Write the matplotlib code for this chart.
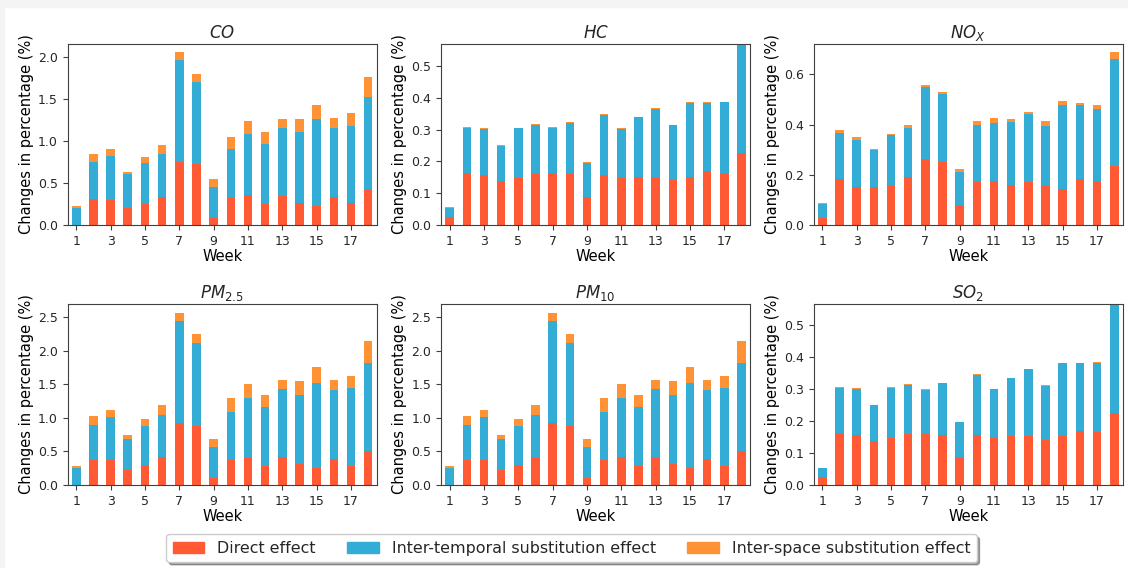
import matplotlib.pyplot as plt
from matplotlib.patches import Rectangle, Patch

# ================ Données ================

weeks = list(range(1, 19))

co_direct = [0.0, 0.31, 0.30, 0.20, 0.255, 0.34, 0.757, 0.725, 0.088, 0.32, 0.36, 0.255, 0.347, 0.263, 0.223, 0.335, 0.263, 0.434]
co_temporal = [0.207, 0.447, 0.525, 0.41, 0.49, 0.513, 1.207, 0.984, 0.366, 0.584, 0.728, 0.713, 0.812, 0.845, 1.044, 0.824, 0.92, 1.096]
co_space = [0.016, 0.092, 0.079, 0.027, 0.064, 0.103, 0.096, 0.096, 0.092, 0.152, 0.159, 0.14, 0.104, 0.163, 0.171, 0.12, 0.148, 0.239]

hc_direct = [0.024, 0.163, 0.157, 0.139, 0.147, 0.160, 0.162, 0.160, 0.089, 0.157, 0.149, 0.151, 0.151, 0.140, 0.151, 0.169, 0.164, 0.225]
hc_temporal = [0.031, 0.143, 0.146, 0.111, 0.158, 0.153, 0.142, 0.162, 0.107, 0.190, 0.154, 0.188, 0.214, 0.173, 0.234, 0.216, 0.222, 0.375]
hc_space = [0.001, 0.002, 0.001, 0.001, 0.001, 0.005, 0.003, 0.001, 0.001, 0.002, 0.001, 0.001, 0.002, 0.002, 0.001, 0.001, 0.002, 0.003]

nox_direct = [0.027, 0.184, 0.152, 0.150, 0.156, 0.192, 0.262, 0.253, 0.078, 0.170, 0.177, 0.160, 0.170, 0.156, 0.145, 0.185, 0.177, 0.237]
nox_temporal = [0.058, 0.184, 0.187, 0.149, 0.203, 0.196, 0.287, 0.271, 0.135, 0.229, 0.229, 0.251, 0.273, 0.240, 0.333, 0.293, 0.287, 0.424]
nox_space = [0.003, 0.010, 0.010, 0.003, 0.003, 0.012, 0.010, 0.007, 0.010, 0.017, 0.021, 0.013, 0.008, 0.020, 0.017, 0.009, 0.014, 0.027]

pm25_direct = [0.0, 0.369, 0.369, 0.219, 0.299, 0.418, 0.926, 0.876, 0.100, 0.378, 0.418, 0.289, 0.418, 0.309, 0.259, 0.388, 0.289, 0.508]
pm25_temporal = [0.259, 0.527, 0.642, 0.468, 0.587, 0.628, 1.524, 1.245, 0.468, 0.713, 0.882, 0.876, 1.011, 1.031, 1.265, 1.021, 1.150, 1.315]
pm25_space = [0.025, 0.135, 0.109, 0.060, 0.095, 0.149, 0.120, 0.130, 0.119, 0.209, 0.204, 0.180, 0.140, 0.214, 0.239, 0.160, 0.180, 0.318]

pm10_direct = [0.0, 0.369, 0.369, 0.219, 0.299, 0.418, 0.926, 0.876, 0.100, 0.378, 0.418, 0.289, 0.418, 0.309, 0.259, 0.388, 0.289, 0.508]
pm10_temporal = [0.259, 0.527, 0.642, 0.468, 0.587, 0.628, 1.524, 1.245, 0.468, 0.713, 0.882, 0.876, 1.011, 1.031, 1.265, 1.021, 1.150, 1.315]
pm10_space = [0.025, 0.135, 0.109, 0.060, 0.095, 0.149, 0.120, 0.130, 0.119, 0.209, 0.204, 0.180, 0.140, 0.214, 0.239, 0.160, 0.180, 0.318]

so2_direct = [0.026, 0.162, 0.157, 0.137, 0.148, 0.160, 0.160, 0.157, 0.087, 0.157, 0.148, 0.153, 0.153, 0.142, 0.153, 0.169, 0.164, 0.225]
so2_temporal = [0.027, 0.142, 0.144, 0.112, 0.156, 0.151, 0.138, 0.160, 0.109, 0.187, 0.151, 0.182, 0.208, 0.167, 0.227, 0.212, 0.217, 0.370]
so2_space = [0.0, 0.002, 0.002, 0.0, 0.002, 0.005, 0.001, 0.0, 0.0, 0.002, 0.002, 0.0, 0.001, 0.002, 0.0, 0.0, 0.002, 0.003]

titles = ["$CO$", "$HC$", "$NO_X$", "$PM_{2.5}$", "$PM_{10}$", "$SO_2$"]
series = [
    (co_direct, co_temporal, co_space),
    (hc_direct, hc_temporal, hc_space),
    (nox_direct, nox_temporal, nox_space),
    (pm25_direct, pm25_temporal, pm25_space),
    (pm10_direct, pm10_temporal, pm10_space),
    (so2_direct, so2_temporal, so2_space),
]
ylims = [None, 0.57, None, None, None, 0.565]
labels = ["Direct effect", "Inter-temporal substitution effect", "Inter-space substitution effect"]

# ================ Figure ================

c_direct = '#FF5A33'
c_temp = '#34ADD6'
c_space = '#FF9234'

plt.rcParams['text.color'] = '#262626'
plt.rcParams['axes.edgecolor'] = '#404040'
plt.rcParams['xtick.color'] = '#404040'
plt.rcParams['ytick.color'] = '#404040'
plt.rcParams['xtick.labelcolor'] = '#262626'
plt.rcParams['ytick.labelcolor'] = '#262626'

fig = plt.figure(figsize=(11.28, 5.68), dpi=100)
# bande grise en haut et à gauche (capture d'écran)
fig.patches.append(Rectangle((0, 1 - 7 / 568), 1, 7 / 568, transform=fig.transFigure, color='#f4f4f4', zorder=-1))
fig.patches.append(Rectangle((0, 0), 4 / 1128, 1, transform=fig.transFigure, color='#f4f4f4', zorder=-1))

lefts = [0.060, 0.391, 0.7214]
bottoms = [0.6039, 0.146]
w = 0.274
h = 0.319

for k in range(6):
    ax = fig.add_axes([lefts[k % 3], bottoms[k // 3], w, h])
    d, t, s = series[k]
    bot2 = [a + b for a, b in zip(d, t)]
    ax.bar(weeks, d, width=0.5, color=c_direct)
    ax.bar(weeks, t, width=0.5, bottom=d, color=c_temp)
    ax.bar(weeks, s, width=0.5, bottom=bot2, color=c_space)
    ax.set_xlim(0.5, 18.5)
    if ylims[k] is not None:
        ax.set_ylim(0, ylims[k])
    ax.set_xticks(range(1, 18, 2))
    ax.tick_params(labelsize=9)
    ax.set_title(titles[k], fontsize=12, pad=4)
    ax.set_xlabel("Week", fontsize=10.5, labelpad=1)
    ax.set_ylabel("Changes in percentage (%)", fontsize=10.5, labelpad=3)

handles = [Patch(color=c_direct), Patch(color=c_temp), Patch(color=c_space)]
fig.legend(handles, labels, loc='lower center', bbox_to_anchor=(0.5067, 0.0106),
           ncol=3, fontsize=11.4, shadow=True, borderaxespad=0)

plt.savefig("out.png", dpi=100)
